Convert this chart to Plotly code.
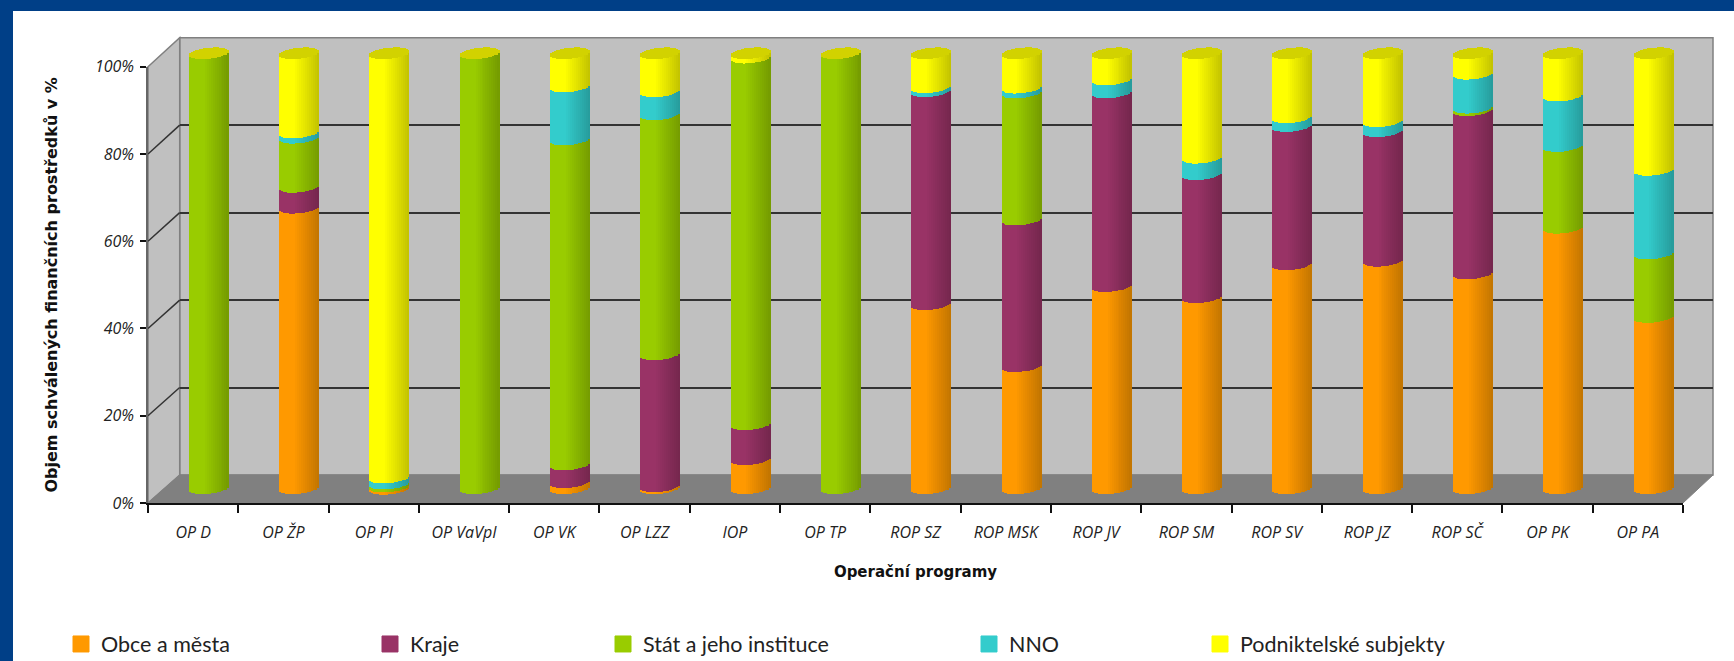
import math
import plotly.graph_objects as go

W, H = 1734, 661

categories = ["OP D", "OP ŽP", "OP PI", "OP VaVpI", "OP VK", "OP LZZ", "IOP", "OP TP", "ROP SZ", "ROP MSK",
              "ROP JV", "ROP SM", "ROP SV", "ROP JZ", "ROP SČ", "OP PK", "OP PA"]
obce = [0, 64.5, 0.4, 0, 1.4, 0.5, 6.7, 0, 42.3, 28.1, 46.5, 43.9, 51.5, 52.3, 49.4, 59.9, 39.4]
kraje = [0, 4.8, 0, 0, 4.1, 30.3, 8, 0, 49, 33.7, 44.5, 28.3, 31.8, 29.8, 37.5, 0, 0]
stat = [100, 11.3, 0.7, 100, 74.7, 55.2, 84.3, 100, 0, 29.2, 0, 0, 0, 0, 0.6, 18.8, 14.6]
nno = [0, 1.2, 1.4, 0, 12.2, 5.3, 0, 0, 0.9, 1.1, 3, 3.8, 2, 2.3, 7.8, 11.6, 19.2]
podnik = [0, 18.2, 97.5, 0, 7.6, 8.7, 1, 0, 7.8, 7.9, 6, 24, 14.7, 15.6, 4.7, 9.7, 26.8]
series_names = ["Obce a města", "Kraje", "Stát a jeho instituce", "NNO", "Podniktelské subjekty"]
series_values = [obce, kraje, stat, nno, podnik]
series_colors = [(255, 153, 0), (153, 51, 102), (153, 204, 0), (51, 204, 204), (255, 255, 0)]
y_ticks = [0, 20, 40, 60, 80, 100]
y_labels = ["0%", "20%", "40%", "60%", "80%", "100%"]


def px(x):
    return x / W


def py(y):
    return 1 - y / H


# plane geometry in pixels
FX0, FX1, FY0, FY1 = 148, 1683, 503, 66.7          # front plane
BX0, BX1, BY0, BY1 = 179.7, 1713, 475, 37.7        # back wall
UNIT = 4.35                                         # pixels per percent on the bar plane
CAT = (FX1 - FX0) / 17
BAR0 = 488.3                                        # y of 0 % on the bar plane
SHIFT_X = 16.2
MX0, MX1 = FX0 + SHIFT_X, FX1 + SHIFT_X
MY_BOT, MY_TOP = 503, 38
bar_range = [(BAR0 - MY_BOT) / UNIT, (BAR0 - MY_TOP) / UNIT]

N = 20
BAR_W = 39.5 / CAT
B, TILT = 5.5, 2.0


def tpos(j):
    return -1 + (2 * j + 1) / N


def front(t):
    return (B * math.sqrt(max(0, 1 - t * t)) - TILT * t) / UNIT


def back(t):
    return (B * math.sqrt(max(0, 1 - t * t)) + TILT * t) / UNIT


def shade(c, t):
    f = 1.0 if t < -0.25 else 1.0 - 0.24 * (t + 0.25) / 1.25
    return "rgb(%d,%d,%d)" % tuple(round(v * f) for v in c)


fig = go.Figure()

# front axes (carry the labels), back axes (carry the gridlines)
fig.add_trace(go.Bar(x=categories, y=[0] * 17, xaxis="x", yaxis="y", marker=dict(opacity=0),
                     showlegend=False, hoverinfo="skip"))
fig.add_trace(go.Scatter(x=[0, 1], y=[0, 100], xaxis="x2", yaxis="y2", mode="none",
                         showlegend=False, hoverinfo="skip"))

cum = [0.0] * 17
for name, vals, col in zip(series_names, series_values, series_colors):
    for j in range(N):
        t = tpos(j)
        fig.add_trace(go.Bar(
            x=categories, y=vals, base=[c - front(t) for c in cum],
            offset=-BAR_W / 2 + j * BAR_W / N, width=BAR_W / N,
            xaxis="x3", yaxis="y3", marker=dict(color=shade(col, t), line=dict(width=0)),
            showlegend=False, hoverinfo="skip"))
    cum = [c + v for c, v in zip(cum, vals)]

# elliptical top faces
for j in range(N):
    t = tpos(j)
    fig.add_trace(go.Bar(
        x=categories, y=[front(t) + back(t)] * 17, base=[c - front(t) for c in cum],
        offset=-BAR_W / 2 + j * BAR_W / N, width=BAR_W / N,
        xaxis="x3", yaxis="y3", marker=dict(color="#D2D200", line=dict(width=0)),
        showlegend=False, hoverinfo="skip"))

# legend entries
legend_x = [61, 370, 603, 969, 1200]
legends = {}
for i, (name, col) in enumerate(zip(series_names, series_colors)):
    key = "legend" if i == 0 else "legend%d" % (i + 1)
    fig.add_trace(go.Scatter(
        x=[None], y=[None], xaxis="x3", yaxis="y3", mode="markers", name=name, legend=key,
        marker=dict(symbol="square", size=16, color="rgb(%d,%d,%d)" % col,
                    line=dict(width=1, color="rgb(%d,%d,%d)" % col)),
        hoverinfo="skip"))
    legends[key] = dict(x=px(legend_x[i]), y=py(644), xanchor="left", yanchor="middle",
                        orientation="h", bgcolor="rgba(0,0,0,0)", borderwidth=0, itemsizing="trace",
                        font=dict(family="Lato", size=21.5, color="#222222"))

shapes = [
    dict(type="rect", xref="paper", yref="paper", x0=0, x1=1, y0=py(11), y1=1,
         fillcolor="#003F87", line_width=0, layer="below"),
    dict(type="rect", xref="paper", yref="paper", x0=0, x1=px(13), y0=0, y1=1,
         fillcolor="#003F87", line_width=0, layer="below"),
    # back wall
    dict(type="rect", xref="paper", yref="paper", x0=px(BX0), x1=px(BX1), y0=py(BY0), y1=py(BY1),
         fillcolor="#C0C0C0", line=dict(color="#808080", width=1.5), layer="below"),
    # side wall
    dict(type="path", xref="paper", yref="paper", layer="below",
         path="M %f %f L %f %f L %f %f L %f %f Z" % (px(FX0), py(FY1), px(BX0), py(BY1),
                                                     px(BX0), py(BY0), px(FX0), py(FY0)),
         fillcolor="#C0C0C0", line=dict(color="#808080", width=1.5)),
    # floor
    dict(type="path", xref="paper", yref="paper", layer="below",
         path="M %f %f L %f %f L %f %f L %f %f Z" % (px(FX0), py(FY0), px(BX0), py(BY0),
                                                     px(BX1), py(BY0), px(FX1), py(FY0)),
         fillcolor="#808080", line=dict(color="#808080", width=1)),
]
# gridlines on the side wall
for v in y_ticks[1:-1]:
    yf = FY0 + (FY1 - FY0) * v / 100
    yb = BY0 + (BY1 - BY0) * v / 100
    shapes.append(dict(type="line", xref="paper", yref="paper", layer="below",
                       x0=px(FX0), y0=py(yf), x1=px(BX0), y1=py(yb),
                       line=dict(color="#333333", width=1.5)))

tick_font = dict(family="Open Sans", size=16, color="#222222", style="italic")

fig.update_layout(
    width=W, height=H, margin=dict(l=0, r=0, t=0, b=0, autoexpand=False),
    paper_bgcolor="white", plot_bgcolor="rgba(0,0,0,0)", barmode="overlay", bargap=0,
    shapes=shapes, **legends,
    xaxis=dict(domain=[px(FX0), px(FX1)], anchor="y", type="category", categoryorder="array",
               categoryarray=categories, range=[-0.5, 16.5], tickson="boundaries", ticks="outside",
               ticklen=8, tickcolor="#111111", tickwidth=1.5, showline=True, linecolor="#111111",
               linewidth=1.5, showgrid=False, zeroline=False, tickfont=tick_font, ticklabelstandoff=14,
               tickangle=0, fixedrange=True,
               title=dict(text="Operační programy",
                          font=dict(family="DejaVu Sans", size=15, color="#111111", weight="bold"), standoff=25)),
    yaxis=dict(domain=[py(FY0), py(FY1)], anchor="x", range=[0, 100], tickvals=y_ticks, ticktext=y_labels,
               ticks="outside", ticklen=6, tickcolor="#111111", tickwidth=1.5, showline=True,
               linecolor="#666666", linewidth=1.5, showgrid=False, zeroline=False, tickfont=tick_font,
               ticklabelstandoff=3, fixedrange=True,
               title=dict(text="Objem schválených finančních prostředků v %",
                          font=dict(family="DejaVu Sans", size=16, color="#111111", weight="bold"), standoff=33)),
    xaxis2=dict(domain=[px(BX0), px(BX1)], anchor="y2", range=[0, 1], visible=False, fixedrange=True),
    yaxis2=dict(domain=[py(BY0), py(BY1)], anchor="x2", range=[0, 100], tickvals=y_ticks[1:-1],
                showgrid=True, gridcolor="#333333", gridwidth=1.5, zeroline=False, showline=False,
                ticks="", showticklabels=False, fixedrange=True),
    xaxis3=dict(domain=[px(MX0), px(MX1)], anchor="y3", type="category", categoryorder="array",
                categoryarray=categories, range=[-0.5, 16.5], visible=False, fixedrange=True),
    yaxis3=dict(domain=[py(MY_BOT), py(MY_TOP)], anchor="x3", range=bar_range, visible=False, fixedrange=True),
)

fig.write_html("out.html", config=dict(displayModeBar=False),
               post_script="document.body.style.margin='0';")
